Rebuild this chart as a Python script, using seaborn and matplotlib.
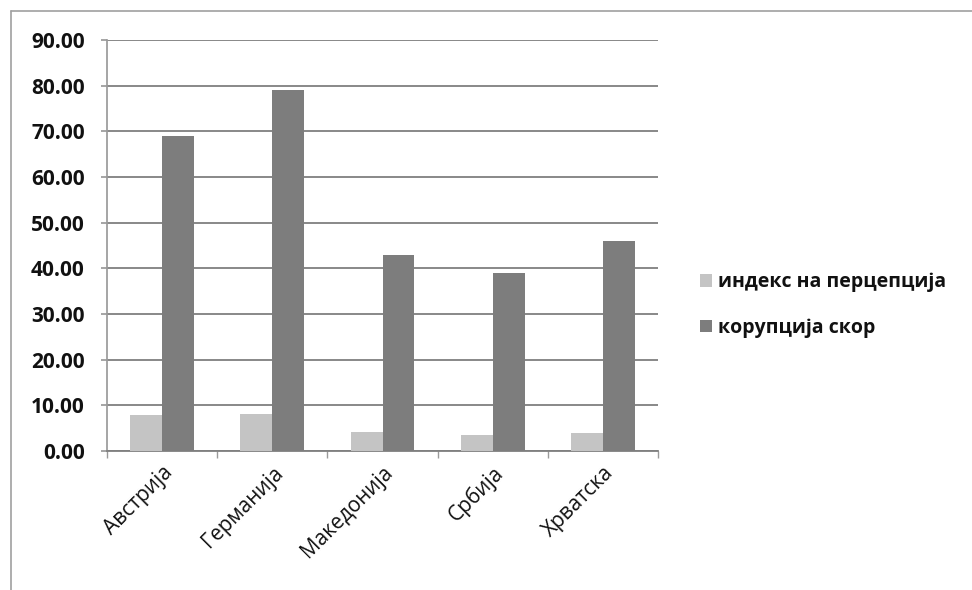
import matplotlib
matplotlib.use("Agg")
import matplotlib.pyplot as plt
import seaborn as sns
import pandas as pd
from matplotlib.lines import Line2D

categories = ["Австрија", "Германија", "Македонија", "Србија", "Хрватска"]
series_names = ["индекс на перцепција", "корупција скор"]
perception = [7.8, 8.0, 4.1, 3.5, 4.0]
corruption = [69, 79, 43, 39, 46]
yticks = [0, 10, 20, 30, 40, 50, 60, 70, 80, 90]

df = pd.DataFrame({
    "country": categories * 2,
    "series": [series_names[0]] * 5 + [series_names[1]] * 5,
    "value": perception + corruption,
})

sns.set_theme(style="white")
plt.rcParams['font.family'] = ['Open Sans', 'DejaVu Sans']

fig = plt.figure(figsize=(9.72, 5.90), dpi=100)
ax = fig.add_axes([107/972, 1 - 451/590, 551/972, 411/590])

sns.barplot(data=df, x="country", y="value", hue="series", ax=ax,
            palette=["#c4c4c4", "#7d7d7d"], width=0.58, saturation=1,
            edgecolor="none", zorder=3)

ax.set_ylim(0, 90)
ax.set_xlim(-0.5, 4.5)
ax.set_yticks(yticks)
ax.set_yticklabels([f"{v:.2f}" for v in yticks], fontsize=15, fontweight="bold", color="#111111")
ax.set_xticks(range(len(categories)))
ax.set_xticklabels(categories, rotation=45, ha="right", rotation_mode="anchor",
                   fontsize=15, color="#111111")
ax.set_xlabel("")
ax.set_ylabel("")
ax.grid(axis="y", color="#7f7f7f", linewidth=1.3, zorder=0)
for s in ["top", "right"]:
    ax.spines[s].set_visible(False)
ax.spines["left"].set_color("#9a9a9a")
ax.spines["bottom"].set_color("#7f7f7f")
ax.spines["bottom"].set_linewidth(1.3)
ax.tick_params(axis="y", which="major", length=4, color="#9a9a9a", left=True, pad=12)
ax.tick_params(axis="x", length=0, pad=8)
ax.set_xticks([-0.5, 0.5, 1.5, 2.5, 3.5, 4.5], minor=True)
ax.tick_params(axis="x", which="minor", length=5, color="#9a9a9a", bottom=True)

leg = ax.legend(loc="center left", bbox_to_anchor=(1.076, 0.355), frameon=False,
                fontsize=14, handlelength=0.6, handleheight=0.6, handletextpad=0.35,
                labelspacing=1.3, borderaxespad=0, borderpad=0)
for t in leg.get_texts():
    t.set_fontweight("bold")
    t.set_color("#111111")

# page border (top and left edges only, as in the scan)
fig.add_artist(Line2D([11/972, 1.0], [1 - 11/590, 1 - 11/590], transform=fig.transFigure,
                      color="#a0a0a0", linewidth=1.2))
fig.add_artist(Line2D([11/972, 11/972], [0.0, 1 - 11/590], transform=fig.transFigure,
                      color="#a0a0a0", linewidth=1.2))

fig.savefig("out.png", dpi=100)
